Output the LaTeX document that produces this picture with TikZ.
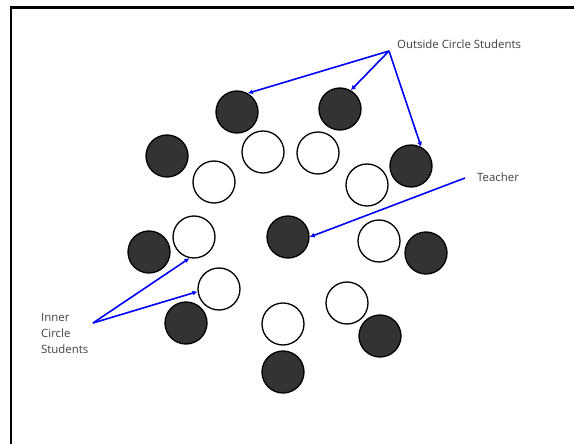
\documentclass[tikz,border=0pt]{standalone}
\usepackage{fontspec}
\setmainfont{Open Sans}
\usetikzlibrary{arrows.meta}

\definecolor{seatdark}{HTML}{333333}
\definecolor{notegray}{HTML}{404040}

\tikzset{
    outer/.style={circle, draw=black, line width=1.3pt, fill=seatdark, minimum size=42pt, inner sep=0pt},
    inner/.style={circle, draw=black, line width=1.3pt, fill=white, minimum size=42pt, inner sep=0pt},
    note/.style={text=notegray, font=\fontsize{11.4}{16}\selectfont, inner sep=0pt},
    pointer/.style={blue, line width=1.6pt, -{Latex[length=5pt,width=5pt]}}
}

\begin{document}
\begin{tikzpicture}[x=1pt, y=-1pt]
    \useasboundingbox (0,0) rectangle (574,444);
    % frame
    \draw[line width=2.4pt] (11,450) -- (11,7.5) -- (580,7.5);

    % outside circle
    \node[outer] (o1) at (237,112) {};
    \node[outer] (o2) at (340,109) {};
    \node[outer] (o3) at (167,156) {};
    \node[outer] (o4) at (411,166) {};
    \node[outer] (o5) at (149,252) {};
    \node[outer] (o6) at (426,253) {};
    \node[outer] (o7) at (186,323) {};
    \node[outer] (o8) at (380,336) {};
    \node[outer] (o9) at (283,372) {};

    % inner circle
    \node[inner] (i1) at (263,152) {};
    \node[inner] (i2) at (318,153) {};
    \node[inner] (i3) at (214,182) {};
    \node[inner] (i4) at (367,185) {};
    \node[inner] (i5) at (194,237) {};
    \node[inner] (i6) at (379,241) {};
    \node[inner] (i7) at (219,289) {};
    \node[inner] (i8) at (347,303) {};
    \node[inner] (i9) at (283,324) {};

    % teacher
    \node[outer] (t) at (288,237) {};

    % labels
    \node[note, anchor=west] (ocs) at (397,44) {Outside Circle Students};
    \node[note, anchor=west] (tch) at (477,177) {Teacher};
    \node[note, anchor=north west, align=left] (ics) at (41,313) {Inner\\Circle\\Students};

    \coordinate (os) at (389,51);
    \coordinate (ts) at (465,178);
    \coordinate (is) at (93,323);

    % arrows
    \draw[pointer] (os) -- (o1.60);
    \draw[pointer] (os) -- (o2.60);
    \draw[pointer] (os) -- (o4.62);
    \draw[pointer] (ts) -- (t.east);
    \draw[pointer] (is) -- (i5.258);
    \draw[pointer] (is) -- (i7.187);
\end{tikzpicture}
\end{document}
